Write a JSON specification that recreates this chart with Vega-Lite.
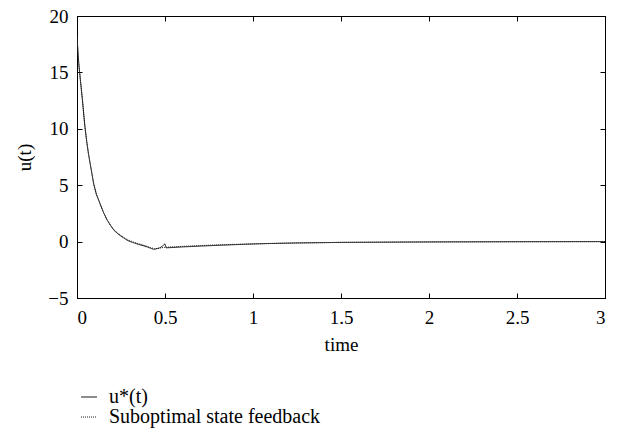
{
  "$schema": "https://vega.github.io/schema/vega-lite/v6.json",
  "autosize": "none",
  "width": 528,
  "height": 282,
  "padding": {"left": 77, "top": 16, "right": 25, "bottom": 134},
  "background": "white",
  "config": {
    "view": {"stroke": "black", "strokeWidth": 1},
    "axis": {
      "labelFont": "Liberation Serif", "labelFontSize": 19, "labelColor": "black",
      "titleFont": "Liberation Serif", "titleFontSize": 19, "titleFontWeight": "normal", "titleColor": "black",
      "tickColor": "black", "domainColor": "black", "grid": false, "tickSize": -5
    },
    "legend": {
      "labelFont": "Liberation Serif", "labelFontSize": 20, "labelColor": "black", "labelLimit": 400
    }
  },
  "data": {"values": [
    {"t": 0, "u": 18.2, "s": "u*(t)"},
    {"t": 0.005, "u": 16.9, "s": "u*(t)"},
    {"t": 0.01, "u": 15.8, "s": "u*(t)"},
    {"t": 0.015, "u": 15.0, "s": "u*(t)"},
    {"t": 0.02, "u": 14.2, "s": "u*(t)"},
    {"t": 0.03, "u": 12.7, "s": "u*(t)"},
    {"t": 0.04, "u": 11.0, "s": "u*(t)"},
    {"t": 0.045, "u": 10.2, "s": "u*(t)"},
    {"t": 0.055, "u": 8.9, "s": "u*(t)"},
    {"t": 0.065, "u": 7.8, "s": "u*(t)"},
    {"t": 0.075, "u": 6.9, "s": "u*(t)"},
    {"t": 0.085, "u": 6.0, "s": "u*(t)"},
    {"t": 0.095, "u": 5.1, "s": "u*(t)"},
    {"t": 0.11, "u": 4.2, "s": "u*(t)"},
    {"t": 0.13, "u": 3.4, "s": "u*(t)"},
    {"t": 0.15, "u": 2.6, "s": "u*(t)"},
    {"t": 0.17, "u": 1.95, "s": "u*(t)"},
    {"t": 0.19, "u": 1.45, "s": "u*(t)"},
    {"t": 0.21, "u": 1.0, "s": "u*(t)"},
    {"t": 0.23, "u": 0.72, "s": "u*(t)"},
    {"t": 0.25, "u": 0.48, "s": "u*(t)"},
    {"t": 0.27, "u": 0.27, "s": "u*(t)"},
    {"t": 0.29, "u": 0.08, "s": "u*(t)"},
    {"t": 0.32, "u": -0.1, "s": "u*(t)"},
    {"t": 0.35, "u": -0.25, "s": "u*(t)"},
    {"t": 0.38, "u": -0.38, "s": "u*(t)"},
    {"t": 0.4, "u": -0.48, "s": "u*(t)"},
    {"t": 0.42, "u": -0.6, "s": "u*(t)"},
    {"t": 0.435, "u": -0.68, "s": "u*(t)"},
    {"t": 0.45, "u": -0.65, "s": "u*(t)"},
    {"t": 0.47, "u": -0.55, "s": "u*(t)"},
    {"t": 0.485, "u": -0.42, "s": "u*(t)"},
    {"t": 0.495, "u": -0.25, "s": "u*(t)"},
    {"t": 0.5, "u": -0.2, "s": "u*(t)"},
    {"t": 0.506, "u": -0.55, "s": "u*(t)"},
    {"t": 0.55, "u": -0.52, "s": "u*(t)"},
    {"t": 0.6, "u": -0.47, "s": "u*(t)"},
    {"t": 0.7, "u": -0.4, "s": "u*(t)"},
    {"t": 0.8, "u": -0.33, "s": "u*(t)"},
    {"t": 0.9, "u": -0.27, "s": "u*(t)"},
    {"t": 1.0, "u": -0.21, "s": "u*(t)"},
    {"t": 1.1, "u": -0.17, "s": "u*(t)"},
    {"t": 1.25, "u": -0.12, "s": "u*(t)"},
    {"t": 1.5, "u": -0.07, "s": "u*(t)"},
    {"t": 1.75, "u": -0.05, "s": "u*(t)"},
    {"t": 2.0, "u": -0.03, "s": "u*(t)"},
    {"t": 2.5, "u": -0.01, "s": "u*(t)"},
    {"t": 3.0, "u": 0.0, "s": "u*(t)"},
    {"t": 0, "u": 18.2, "s": "Suboptimal state feedback"},
    {"t": 0.005, "u": 16.9, "s": "Suboptimal state feedback"},
    {"t": 0.01, "u": 15.8, "s": "Suboptimal state feedback"},
    {"t": 0.015, "u": 15.0, "s": "Suboptimal state feedback"},
    {"t": 0.02, "u": 14.2, "s": "Suboptimal state feedback"},
    {"t": 0.03, "u": 12.7, "s": "Suboptimal state feedback"},
    {"t": 0.04, "u": 11.0, "s": "Suboptimal state feedback"},
    {"t": 0.045, "u": 10.2, "s": "Suboptimal state feedback"},
    {"t": 0.055, "u": 8.9, "s": "Suboptimal state feedback"},
    {"t": 0.065, "u": 7.8, "s": "Suboptimal state feedback"},
    {"t": 0.075, "u": 6.9, "s": "Suboptimal state feedback"},
    {"t": 0.085, "u": 6.0, "s": "Suboptimal state feedback"},
    {"t": 0.095, "u": 5.1, "s": "Suboptimal state feedback"},
    {"t": 0.11, "u": 4.2, "s": "Suboptimal state feedback"},
    {"t": 0.13, "u": 3.4, "s": "Suboptimal state feedback"},
    {"t": 0.15, "u": 2.6, "s": "Suboptimal state feedback"},
    {"t": 0.17, "u": 1.95, "s": "Suboptimal state feedback"},
    {"t": 0.19, "u": 1.45, "s": "Suboptimal state feedback"},
    {"t": 0.21, "u": 1.05, "s": "Suboptimal state feedback"},
    {"t": 0.23, "u": 0.77, "s": "Suboptimal state feedback"},
    {"t": 0.25, "u": 0.54, "s": "Suboptimal state feedback"},
    {"t": 0.27, "u": 0.33, "s": "Suboptimal state feedback"},
    {"t": 0.29, "u": 0.14, "s": "Suboptimal state feedback"},
    {"t": 0.32, "u": -0.04, "s": "Suboptimal state feedback"},
    {"t": 0.35, "u": -0.19, "s": "Suboptimal state feedback"},
    {"t": 0.38, "u": -0.33, "s": "Suboptimal state feedback"},
    {"t": 0.4, "u": -0.43, "s": "Suboptimal state feedback"},
    {"t": 0.42, "u": -0.55, "s": "Suboptimal state feedback"},
    {"t": 0.44, "u": -0.62, "s": "Suboptimal state feedback"},
    {"t": 0.46, "u": -0.6, "s": "Suboptimal state feedback"},
    {"t": 0.48, "u": -0.55, "s": "Suboptimal state feedback"},
    {"t": 0.5, "u": -0.5, "s": "Suboptimal state feedback"},
    {"t": 0.55, "u": -0.46, "s": "Suboptimal state feedback"},
    {"t": 0.6, "u": -0.42, "s": "Suboptimal state feedback"},
    {"t": 0.7, "u": -0.35, "s": "Suboptimal state feedback"},
    {"t": 0.8, "u": -0.29, "s": "Suboptimal state feedback"},
    {"t": 0.9, "u": -0.24, "s": "Suboptimal state feedback"},
    {"t": 1.0, "u": -0.2, "s": "Suboptimal state feedback"},
    {"t": 1.1, "u": -0.16, "s": "Suboptimal state feedback"},
    {"t": 1.25, "u": -0.12, "s": "Suboptimal state feedback"},
    {"t": 1.5, "u": -0.07, "s": "Suboptimal state feedback"},
    {"t": 1.75, "u": -0.05, "s": "Suboptimal state feedback"},
    {"t": 2.0, "u": -0.03, "s": "Suboptimal state feedback"},
    {"t": 2.5, "u": -0.01, "s": "Suboptimal state feedback"},
    {"t": 3.0, "u": 0.0, "s": "Suboptimal state feedback"}
  ]},
  "layer": [
    {
      "mark": {"type": "line", "strokeWidth": 1, "clip": true},
      "encoding": {
        "x": {"field": "t", "type": "quantitative", "scale": {"domain": [0, 3], "nice": false, "zero": false},
              "axis": {"orient": "bottom", "title": "time", "values": [0, 0.5, 1, 1.5, 2, 2.5, 3], "format": "~g", "labelPadding": 15, "titlePadding": 8}},
        "y": {"field": "u", "type": "quantitative", "scale": {"domain": [-5, 20], "nice": false, "zero": false},
              "axis": {"orient": "left", "title": "u(t)", "values": [-5, 0, 5, 10, 15, 20], "format": "~g", "labelPadding": 14, "titlePadding": 13}},
        "color": {"field": "s", "type": "nominal",
                  "scale": {"domain": ["u*(t)", "Suboptimal state feedback"], "range": ["#1a1a1a", "#222222"]},
                  "legend": {"title": null, "orient": "none", "legendX": 2, "legendY": 371, "padding": 0,
                             "symbolType": "stroke", "symbolSize": 256, "symbolStrokeWidth": 1, "labelOffset": 10, "rowPadding": 0}},
        "strokeDash": {"field": "s", "type": "nominal",
                  "scale": {"domain": ["u*(t)", "Suboptimal state feedback"], "range": [[1, 0], [1, 1]]},
                  "legend": {"title": null, "orient": "none", "legendX": 2, "legendY": 371, "padding": 0,
                             "symbolType": "stroke", "symbolSize": 256, "symbolStrokeWidth": 1, "labelOffset": 10, "rowPadding": 0}},
        "detail": {"field": "s"}
      }
    },
    {
      "mark": {"type": "line", "strokeOpacity": 0},
      "encoding": {
        "x": {"field": "t", "type": "quantitative", "axis": {"orient": "top", "title": null, "labels": false, "values": [0, 0.5, 1, 1.5, 2, 2.5, 3]}},
        "y": {"field": "u", "type": "quantitative", "axis": {"orient": "right", "title": null, "labels": false, "values": [-5, 0, 5, 10, 15, 20]}},
        "detail": {"field": "s"}
      }
    }
  ]
}
